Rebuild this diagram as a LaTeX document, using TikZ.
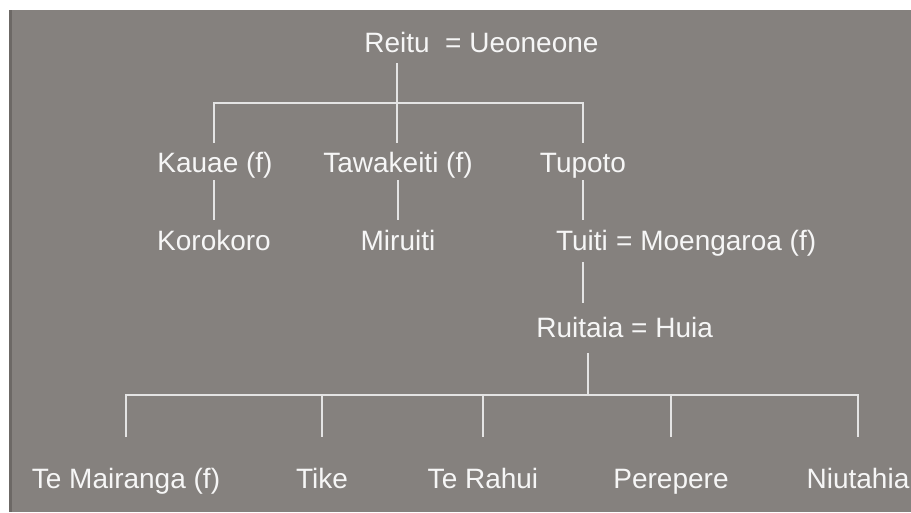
\documentclass[tikz,border=0pt]{standalone}
\usepackage{fontspec}
\setmainfont{Liberation Sans}
\definecolor{bg}{RGB}{133,129,126}
\definecolor{edgecol}{RGB}{108,104,101}
\definecolor{txt}{RGB}{246,246,246}
\definecolor{lncol}{RGB}{228,228,228}
\begin{document}
\begin{tikzpicture}[x=1pt,y=-1pt,
  lbl/.style={text=txt, inner sep=0pt, font=\fontsize{28}{33}\selectfont, text height=20pt, text depth=6pt},
  ln/.style={draw=lncol, line width=2pt}]
\useasboundingbox (0,0) rectangle (911,512);
\fill[white] (0,0) rectangle (911,512);
\fill[bg] (9,10) rectangle (911,512);
\fill[edgecol] (9,10) rectangle (12,512);
% top couple
\node[lbl, anchor=base] (reitu) at (397,52) {Reitu};
\node[lbl, anchor=base west] (ueo) at (445,52) {= Ueoneone};
% second row
\node[lbl, anchor=base] (kauae) at (215,172) {Kauae (f)};
\node[lbl, anchor=base] (tawa) at (398,172) {Tawakeiti (f)};
\node[lbl, anchor=base] (tupoto) at (583,172) {Tupoto};
% third row
\node[lbl, anchor=base] (koro) at (214,250) {Korokoro};
\node[lbl, anchor=base] (miru) at (398,250) {Miruiti};
\node[lbl, anchor=base] (tuiti) at (582,250) {Tuiti};
\node[lbl, anchor=base west] (moeng) at (616,250) {= Moengaroa (f)};
% fourth row
\node[lbl, anchor=base] (ruit) at (580,337) {Ruitaia};
\node[lbl, anchor=base west] (huia) at (631,337) {= Huia};
\coordinate (rj) at (588,395);
% bottom row
\node[lbl, anchor=base] (tm) at (126,488) {Te Mairanga (f)};
\node[lbl, anchor=base] (tike) at (322,488) {Tike};
\node[lbl, anchor=base] (rahui) at (483,488) {Te Rahui};
\node[lbl, anchor=base] (pere) at (671,488) {Perepere};
\node[lbl, anchor=base] (niu) at (858,488) {Niutahia};
% connectors
\draw[ln] (reitu.south |- 0,63) -- (reitu.south |- 0,143);
\draw[ln] (koro.north |- 0,143) -- (koro.north |- 0,103) -- (tupoto.north |- 0,103) -- (tupoto.north |- 0,143);
\draw[ln] (koro.north |- 0,180) -- (koro.north |- 0,220);
\draw[ln] (tawa.south |- 0,180) -- (miru.north |- 0,220);
\draw[ln] (tupoto.south |- 0,180) -- (tupoto.south |- 0,220);
\draw[ln] (tupoto.south |- 0,262) -- (tupoto.south |- 0,303);
\draw[ln] (rj |- 0,353) -- (rj);
\draw[ln] (tm.north |- 0,437) -- (tm.north |- 0,395) -- (niu.north |- 0,395) -- (niu.north |- 0,437);
\draw[ln] (tike.north |- 0,395) -- (tike.north |- 0,437);
\draw[ln] (rahui.north |- 0,395) -- (rahui.north |- 0,437);
\draw[ln] (pere.north |- 0,395) -- (pere.north |- 0,437);
\end{tikzpicture}
\end{document}
